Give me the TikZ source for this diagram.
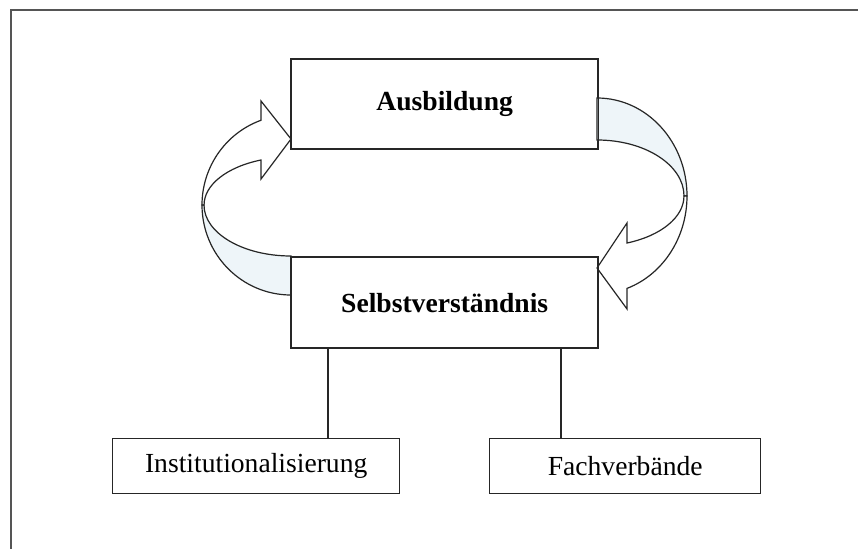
\documentclass[tikz,border=0pt]{standalone}
\usepackage{fontspec}
\setmainfont{Liberation Serif}
\definecolor{bandblue}{HTML}{EEF5F9}
\definecolor{framegray}{HTML}{555555}
\begin{document}
\begin{tikzpicture}[x=1pt,y=-1pt,
  box/.style={draw=black!85,line width=1.4pt,fill=white,inner sep=0pt,anchor=north west},
  link/.style={draw=black!85,line width=1.4pt},
  band/.style={draw=black!85,line width=1.2pt,fill=bandblue},
  front/.style={draw=black!85,line width=1.2pt,fill=white},
  every node/.style={font=\fontsize{27.6}{33}\selectfont}]
\useasboundingbox (0,0) rectangle (858,548);
\fill[white] (0,0) rectangle (858,548);
% outer frame (only left and top edges visible)
\draw[framegray,line width=2pt] (11,560) -- (11,10) -- (870,10);

% boxes
\node[box,minimum width=306pt,minimum height=89pt] (aus) at (291,59) {};
\node at (aus.center) {\textbf{Ausbildung}};
\node[box,minimum width=306pt,minimum height=90pt] (selbst) at (291,257) {};
\node at (selbst.center) {\textbf{Selbstverständnis}};
\node[box,minimum width=287pt,minimum height=55pt] (inst) at (112,438) {};
\node at (inst.center) {Institutionalisierung};
\node[box,minimum width=271pt,minimum height=55pt] (fach) at (489,438) {};
\node at (fach.center) {Fachverbände};

% connectors
\coordinate (l1) at (328,347);
\coordinate (l2) at (561,347);
\draw[link] (l1) -- (l1 |- inst.north);
\draw[link] (l2) -- (l2 |- fach.north);

% left curved arrow (Selbstverstaendnis -> Ausbildung)
\path[band] (291,295) arc[start angle=90,end angle=180,x radius=89,y radius=90]
  -- (204,205) arc[start angle=180,end angle=90,x radius=87,y radius=51] -- cycle;
\path[front] (202,205) arc[start angle=180,end angle=250.3,x radius=89,y radius=90]
  -- (261,101) -- (291,139) -- (261,179) -- (261,160)
  arc[start angle=249.8,end angle=180,x radius=87,y radius=48] -- cycle;

% right curved arrow (Ausbildung -> Selbstverstaendnis)
\path[band] (597,98) arc[start angle=270,end angle=360,x radius=90,y radius=98]
  -- (684,196) arc[start angle=360,end angle=270,x radius=87,y radius=56] -- cycle;
\path[front] (687,196) arc[start angle=0,end angle=70.5,x radius=90,y radius=98]
  -- (627,309) -- (597,268) -- (627,223) -- (627,243)
  arc[start angle=69.8,end angle=0,x radius=87,y radius=50] -- cycle;

% redraw box borders over arrow ends
\draw[black!85,line width=1.4pt] (aus.north west) rectangle (aus.south east);
\draw[black!85,line width=1.4pt] (selbst.north west) rectangle (selbst.south east);
\end{tikzpicture}
\end{document}
